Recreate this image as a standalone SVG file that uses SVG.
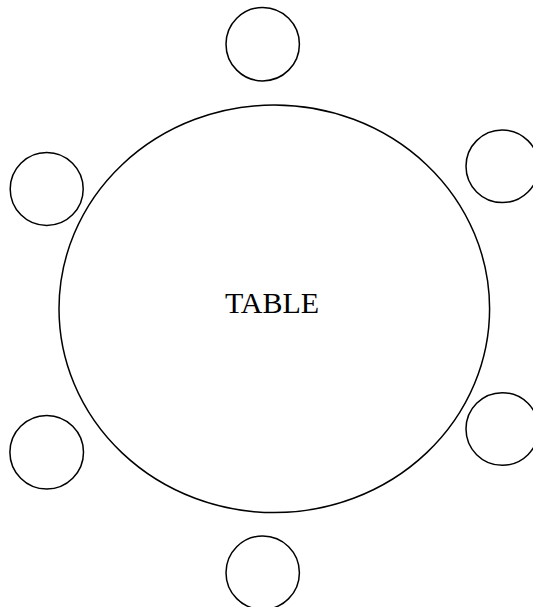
<svg xmlns="http://www.w3.org/2000/svg" width="533" height="607" viewBox="0 0 533 607">
<style>
.s{fill:#fff;stroke:#000;stroke-width:1.5}
.t{font-family:"Liberation Serif","Times New Roman",serif;font-size:30px;fill:#000}
</style>
<rect width="533" height="607" fill="#fff"/>
<g id="table">
<ellipse class="s" cx="274.3" cy="308.8" rx="215.3" ry="203.8"/>
<text class="t" x="272" y="313" text-anchor="middle">TABLE</text>
</g>
<g id="seat-top"><circle class="s" cx="262.7" cy="44.2" r="36.7"/></g>
<g id="seat-top-right"><circle class="s" cx="502.3" cy="166.3" r="36.3"/></g>
<g id="seat-left-top"><circle class="s" cx="46.7" cy="189" r="36.5"/></g>
<g id="seat-right-bottom"><circle class="s" cx="502.3" cy="429" r="36.3"/></g>
<g id="seat-left-bottom"><circle class="s" cx="46.7" cy="452.3" r="36.8"/></g>
<g id="seat-bottom"><circle class="s" cx="262.7" cy="572.7" r="36.7"/></g>
<g id="connectors"></g>
</svg>
